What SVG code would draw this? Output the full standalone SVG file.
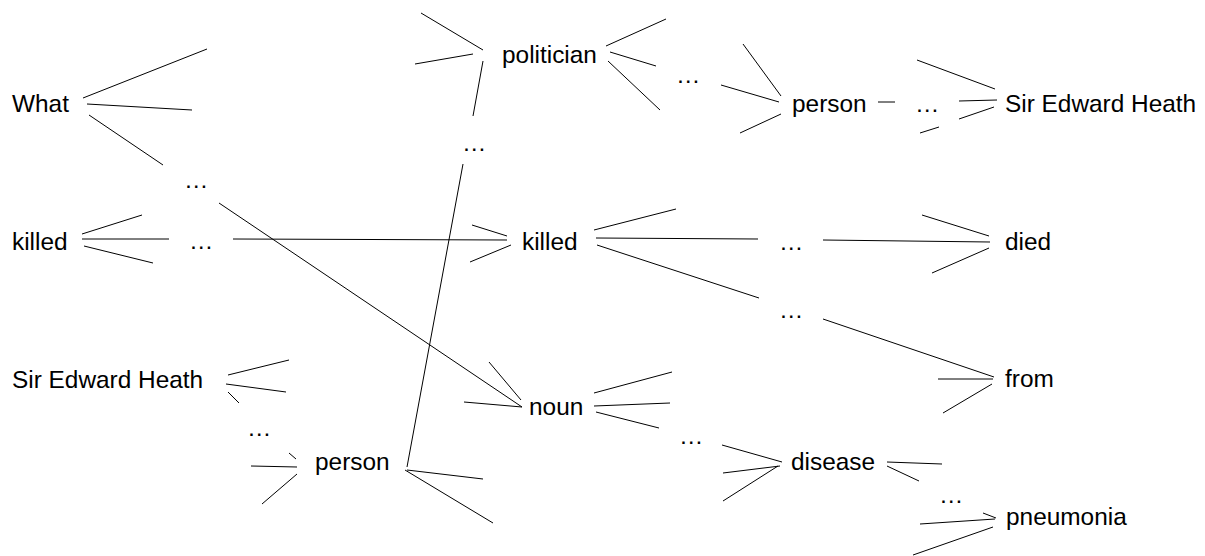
<svg xmlns="http://www.w3.org/2000/svg" width="1205" height="556" viewBox="0 0 1205 556">
<style>
text{font-family:"Liberation Sans",Arial,sans-serif;font-size:24.4px;fill:#000}
#connectors line{stroke:#000;stroke-width:1;fill:none}
</style>
<rect width="1205" height="556" fill="#fff"/>
<g id="connectors">
<line x1="83" y1="98" x2="207" y2="49"/>
<line x1="87" y1="104" x2="192" y2="110"/>
<line x1="89" y1="115" x2="163" y2="165"/>
<line x1="219" y1="203" x2="522" y2="407"/>
<line x1="82" y1="234" x2="142" y2="215"/>
<line x1="82" y1="239" x2="169" y2="239"/>
<line x1="84" y1="246" x2="153" y2="263"/>
<line x1="233" y1="239" x2="507" y2="240"/>
<line x1="421" y1="13" x2="483" y2="50"/>
<line x1="415" y1="64" x2="473" y2="54"/>
<line x1="483" y1="61" x2="473" y2="116"/>
<line x1="463" y1="164" x2="407" y2="467"/>
<line x1="472" y1="225" x2="507" y2="236"/>
<line x1="470" y1="262" x2="511" y2="245"/>
<line x1="594" y1="230" x2="676" y2="209"/>
<line x1="596" y1="238" x2="758" y2="239"/>
<line x1="597" y1="245" x2="759" y2="298"/>
<line x1="606" y1="46" x2="666" y2="19"/>
<line x1="610" y1="52" x2="656" y2="66"/>
<line x1="608" y1="61" x2="660" y2="110"/>
<line x1="743" y1="44" x2="781" y2="96"/>
<line x1="721" y1="85" x2="779" y2="102"/>
<line x1="740" y1="133" x2="781" y2="114"/>
<line x1="878" y1="102" x2="895" y2="102"/>
<line x1="917" y1="60" x2="995" y2="89"/>
<line x1="959" y1="101" x2="997" y2="100"/>
<line x1="959" y1="119" x2="994" y2="107"/>
<line x1="920" y1="133" x2="939" y2="127"/>
<line x1="823" y1="240" x2="990" y2="242"/>
<line x1="922" y1="215" x2="989" y2="236"/>
<line x1="932" y1="273" x2="989" y2="248"/>
<line x1="228" y1="375" x2="289" y2="360"/>
<line x1="226" y1="384" x2="286" y2="392"/>
<line x1="228" y1="392" x2="239" y2="403"/>
<line x1="289" y1="453" x2="296" y2="459"/>
<line x1="251" y1="466" x2="297" y2="467"/>
<line x1="262" y1="504" x2="297" y2="474"/>
<line x1="407" y1="470" x2="483" y2="479"/>
<line x1="405" y1="470" x2="493" y2="523"/>
<line x1="489" y1="362" x2="521" y2="400"/>
<line x1="464" y1="402" x2="522" y2="407"/>
<line x1="594" y1="393" x2="672" y2="372"/>
<line x1="594" y1="406" x2="670" y2="403"/>
<line x1="596" y1="412" x2="659" y2="428"/>
<line x1="823" y1="319" x2="994" y2="377"/>
<line x1="722" y1="445" x2="782" y2="462"/>
<line x1="723" y1="473" x2="780" y2="466"/>
<line x1="723" y1="501" x2="778" y2="466"/>
<line x1="887" y1="462" x2="942" y2="464"/>
<line x1="887" y1="466" x2="919" y2="481"/>
<line x1="938" y1="379" x2="993" y2="379"/>
<line x1="943" y1="413" x2="992" y2="384"/>
<line x1="983" y1="513" x2="996" y2="518"/>
<line x1="920" y1="524" x2="995" y2="519"/>
<line x1="913" y1="555" x2="993" y2="527"/>
</g>
<g id="n-what"><text x="12" y="112">What</text></g>
<g id="n-dots1"><text x="184" y="188">…</text></g>
<g id="n-killed1"><text x="12" y="250">killed</text></g>
<g id="n-dots2"><text x="189" y="249">…</text></g>
<g id="n-politician"><text x="502" y="63">politician</text></g>
<g id="n-dots3"><text x="462" y="151">…</text></g>
<g id="n-dots4"><text x="676" y="83">…</text></g>
<g id="n-person1"><text x="792" y="112">person</text></g>
<g id="n-dots5"><text x="915" y="112">…</text></g>
<g id="n-seh1"><text x="1005" y="112">Sir Edward Heath</text></g>
<g id="n-killed2"><text x="522" y="250">killed</text></g>
<g id="n-dots6"><text x="779" y="250">…</text></g>
<g id="n-died"><text x="1005" y="250">died</text></g>
<g id="n-dots7"><text x="779" y="318">…</text></g>
<g id="n-from"><text x="1005" y="387">from</text></g>
<g id="n-seh2"><text x="12" y="388">Sir Edward Heath</text></g>
<g id="n-dots8"><text x="247" y="436">…</text></g>
<g id="n-person2"><text x="315" y="470">person</text></g>
<g id="n-noun"><text x="529" y="415">noun</text></g>
<g id="n-dots9"><text x="679" y="444">…</text></g>
<g id="n-disease"><text x="791" y="470">disease</text></g>
<g id="n-dots10"><text x="939" y="503">…</text></g>
<g id="n-pneumonia"><text x="1006" y="525">pneumonia</text></g>
</svg>
